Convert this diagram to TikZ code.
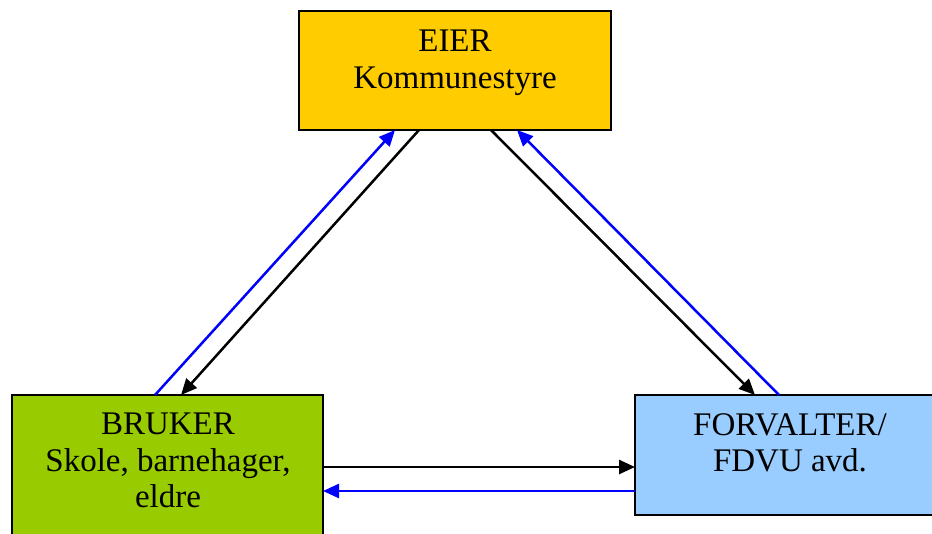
\documentclass[tikz,border=0pt]{standalone}
\usepackage{fontspec}
\setmainfont{Liberation Serif}
\usetikzlibrary{arrows.meta,calc}

\definecolor{eiercol}{HTML}{FFCC00}
\definecolor{brukercol}{HTML}{99CC00}
\definecolor{forvcol}{HTML}{99CCFF}
\definecolor{flowblue}{HTML}{0000FF}

\tikzset{
  box/.style={draw=black, line width=2pt, rectangle, inner sep=0pt, outer sep=0pt},
  boxtext/.style={align=center, inner sep=0pt, anchor=north,
    font=\fontsize{33}{36.5}\selectfont},
  flow/.style={line width=2.5pt, -{Triangle[length=16pt,width=14pt]}},
  down/.style={flow, draw=black},
  up/.style={flow, draw=flowblue}
}

\begin{document}
\begin{tikzpicture}[x=1pt, y=-1pt]
  \useasboundingbox (0,0) rectangle (932,533);
  \clip (0,0) rectangle (932,533);

  % the three parties
  \node[box, fill=eiercol, minimum width=312pt, minimum height=119pt, anchor=north west]
    (eier) at (299,11) {};
  \node[box, fill=brukercol, minimum width=311pt, minimum height=170pt, anchor=north west]
    (bruker) at (12,395) {};
  \node[box, fill=forvcol, minimum width=310pt, minimum height=120pt, anchor=north west]
    (forv) at (635,395) {};

  \node[boxtext] (eiertxt) at (455,30) {EIER\\Kommunestyre};
  \node[boxtext] (brukertxt) at (168,413) {BRUKER\\Skole, barnehager,\\eldre};
  \node[boxtext] (forvtxt) at (790,413) {FORVALTER/\\FDVU avd.};

  % owner <-> user
  \draw[down] ($(eier.south west)+(120,0)$) -- ($(bruker.north west)+(169,0)$);
  \draw[up]   ($(bruker.north west)+(143,0)$) -- ($(eier.south west)+(96,0)$);

  % owner <-> manager
  \draw[down] ($(eier.south west)+(192,0)$) -- ($(forv.north west)+(120,0)$);
  \draw[up]   ($(forv.north west)+(144,0)$) -- ($(eier.south west)+(218,0)$);

  % user <-> manager
  \draw[down] ($(bruker.north east)+(0,72)$) -- ($(forv.north west)+(0,72)$);
  \draw[up]   ($(forv.north west)+(0,96)$) -- ($(bruker.north east)+(0,96)$);
\end{tikzpicture}
\end{document}
